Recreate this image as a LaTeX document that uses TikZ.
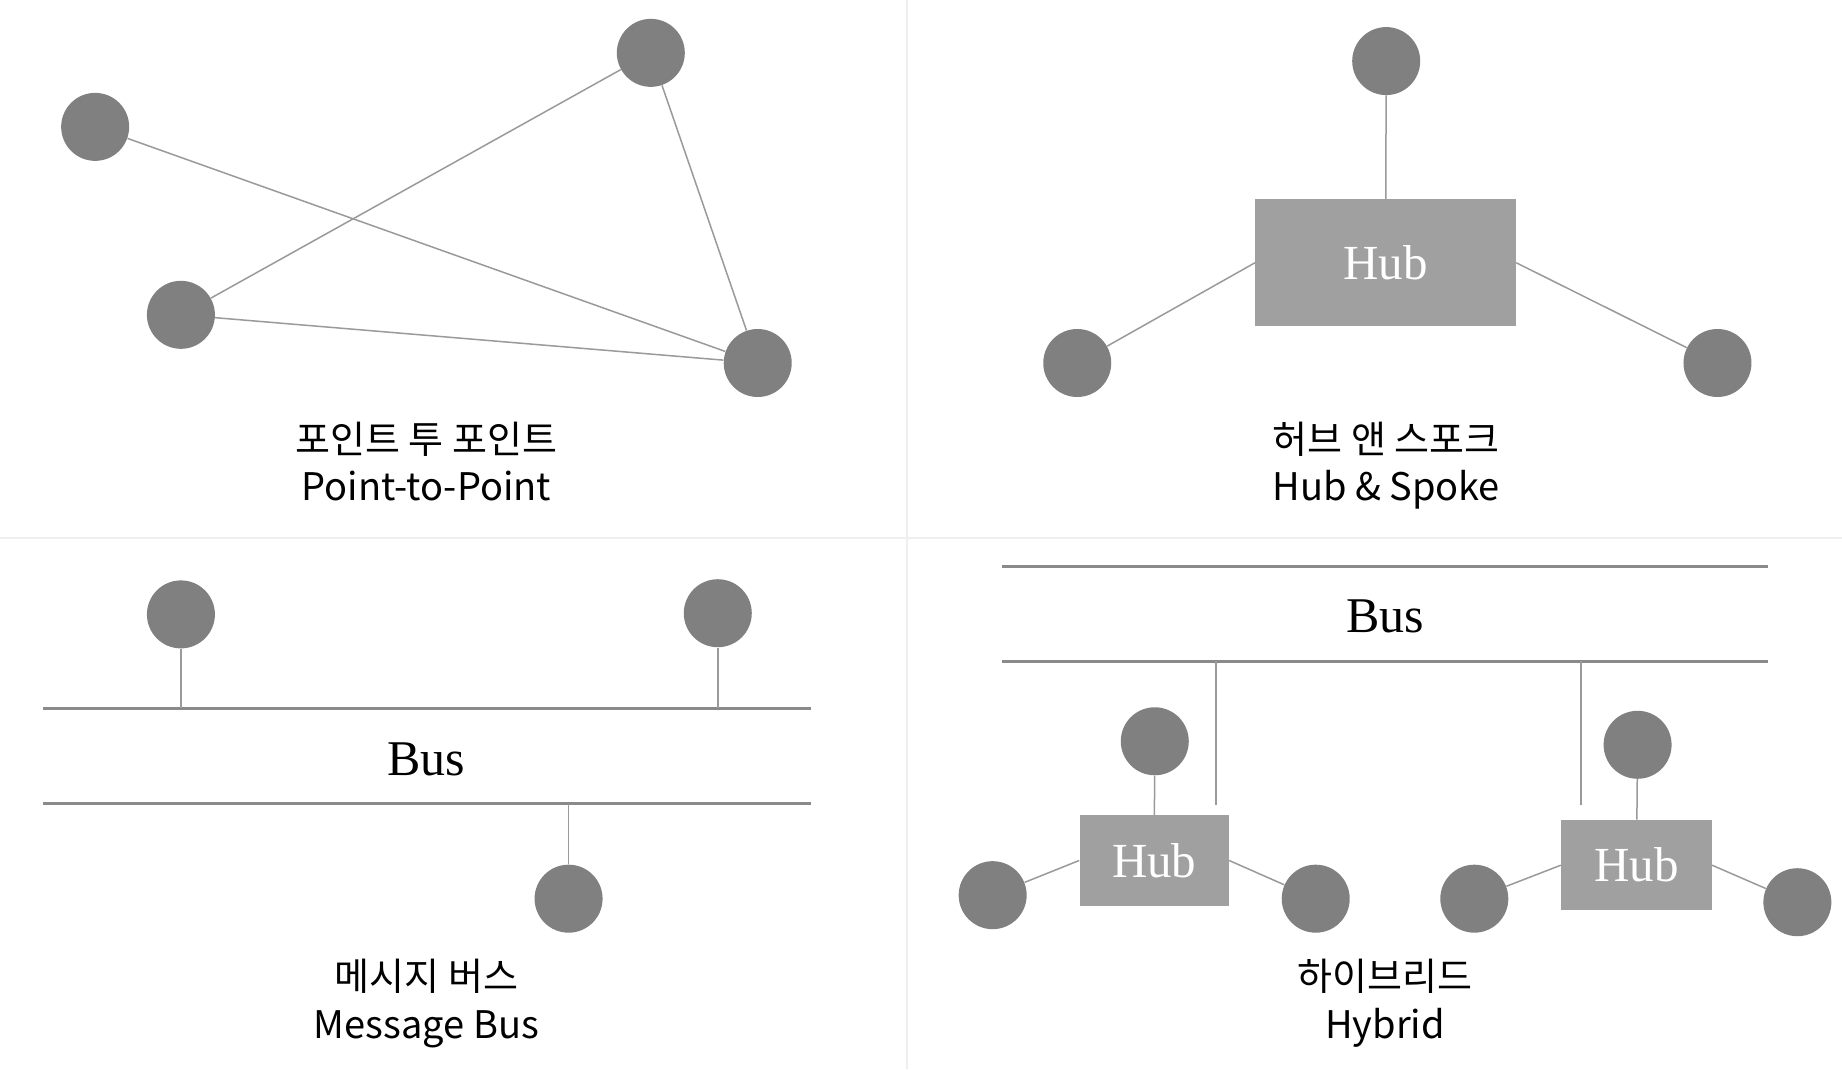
\documentclass[tikz,border=0pt]{standalone}
\usepackage{fontspec}
\newfontfamily\krfont{Noto Sans CJK KR}
\newfontfamily\hubfont{Liberation Serif}
\definecolor{nodegray}{HTML}{808080}
\definecolor{hubgray}{HTML}{A0A0A0}
\definecolor{linegray}{HTML}{9A9A9A}
\definecolor{busgray}{HTML}{8A8A8A}
\definecolor{divgray}{HTML}{EFEFEF}
\begin{document}
\begin{tikzpicture}[x=0.58737pt,y=-0.58737pt,
  dot/.style={circle,fill=nodegray,draw=none,minimum size=34pt,inner sep=0pt},
  hubbox/.style={rectangle,fill=hubgray,draw=none,inner sep=0pt,text=white,font=\hubfont\fontsize{24.5}{28}\selectfont},
  conn/.style={draw=linegray,line width=0.75pt},
  busline/.style={draw=busgray,line width=1.3pt},
  divline/.style={draw=divgray,line width=1.1pt},
  kr/.style={font=\krfont\fontsize{19}{22}\selectfont,inner sep=0pt,anchor=base},
  bustext/.style={font=\hubfont\fontsize{25}{28}\selectfont,inner sep=0pt}]
\useasboundingbox (0,0) rectangle (1568,910);
\fill[white] (0,0) rectangle (1568,910);
% dividers
\coordinate (v1) at (772,0); \coordinate (v2) at (772,910);
\coordinate (h1) at (0,458); \coordinate (h2) at (1568,458);
\draw[divline] (v1) -- (v2);
\draw[divline] (h1) -- (h2);

% ---- Point-to-Point ----
\node[dot] (pa) at (81,108) {};
\node[dot] (pb) at (554,45) {};
\node[dot] (pc) at (154,268) {};
\node[dot] (pd) at (645,309) {};
\draw[conn] (pa) -- (pd);
\draw[conn] (pb) -- (pc);
\draw[conn] (pb) -- (pd);
\draw[conn] (pc) -- (pd);
\node[kr] (ptpk) at (363,386) {포인트 투 포인트};
\node[kr] (ptpe) at (363,426) {Point-to-Point};

% ---- Hub & Spoke ----
\node[hubbox,minimum width=130.3pt,minimum height=63.3pt] (hub) at (1179.5,223.7) {Hub};
\node[dot] (ht) at (1180,52) {};
\node[dot] (hl) at (917,309) {};
\node[dot] (hr) at (1462,309) {};
\draw[conn] (ht) -- (hub);
\draw[conn] (hl) -- (hub.west);
\draw[conn] (hub.east) -- (hr);
\node[kr] (hsk) at (1180,386) {허브 앤 스포크};
\node[kr] (hse) at (1180,426) {Hub \& Spoke};

% ---- Message Bus ----
\coordinate (mb1a) at (37,603); \coordinate (mb1b) at (690,603);
\coordinate (mb2a) at (37,684); \coordinate (mb2b) at (690,684);
\draw[busline] (mb1a) -- (mb1b);
\draw[busline] (mb2a) -- (mb2b);
\node[bustext] (mbt) at (363,646) {Bus};
\node[dot] (m1) at (154,523) {};
\node[dot] (m2) at (611,522) {};
\node[dot] (m3) at (484,765) {};
\coordinate (m1b) at (154,603);
\coordinate (m2b) at (611,603);
\coordinate (m3b) at (484,684);
\draw[conn] (m1) -- (m1b);
\draw[conn] (m2) -- (m2b);
\draw[conn] (m3) -- (m3b);
\node[kr] (mbk) at (363,843) {메시지 버스};
\node[kr] (mbe) at (363,884) {Message Bus};

% ---- Hybrid ----
\coordinate (yb1a) at (853,482); \coordinate (yb1b) at (1505,482);
\coordinate (yb2a) at (853,563); \coordinate (yb2b) at (1505,563);
\draw[busline] (yb1a) -- (yb1b);
\draw[busline] (yb2a) -- (yb2b);
\node[bustext] (ybt) at (1179,525) {Bus};
\coordinate (d1a) at (1035,563); \coordinate (d1b) at (1035,685);
\coordinate (d2a) at (1346,563); \coordinate (d2b) at (1346,685);
\draw[conn] (d1a) -- (d1b);
\draw[conn] (d2a) -- (d2b);

\node[hubbox,minimum width=74.6pt,minimum height=45.2pt] (hy1) at (982.5,732.5) {Hub};
\node[dot] (y1t) at (983,631) {};
\node[dot] (y1l) at (845,762) {};
\node[dot] (y1r) at (1120,765) {};
\draw[conn] (y1t) -- (hy1);
\draw[conn] (y1l) -- (hy1.west);
\draw[conn] (hy1.east) -- (y1r);

\node[hubbox,minimum width=75.2pt,minimum height=45.2pt] (hy2) at (1393,736.5) {Hub};
\node[dot] (y2t) at (1394,634) {};
\node[dot] (y2l) at (1255,765) {};
\node[dot] (y2r) at (1530,768) {};
\draw[conn] (y2t) -- (hy2);
\draw[conn] (y2l) -- (hy2.west);
\draw[conn] (hy2.east) -- (y2r);

\node[kr] (hyk) at (1179,843) {하이브리드};
\node[kr] (hye) at (1179,884) {Hybrid};
\end{tikzpicture}
\end{document}
